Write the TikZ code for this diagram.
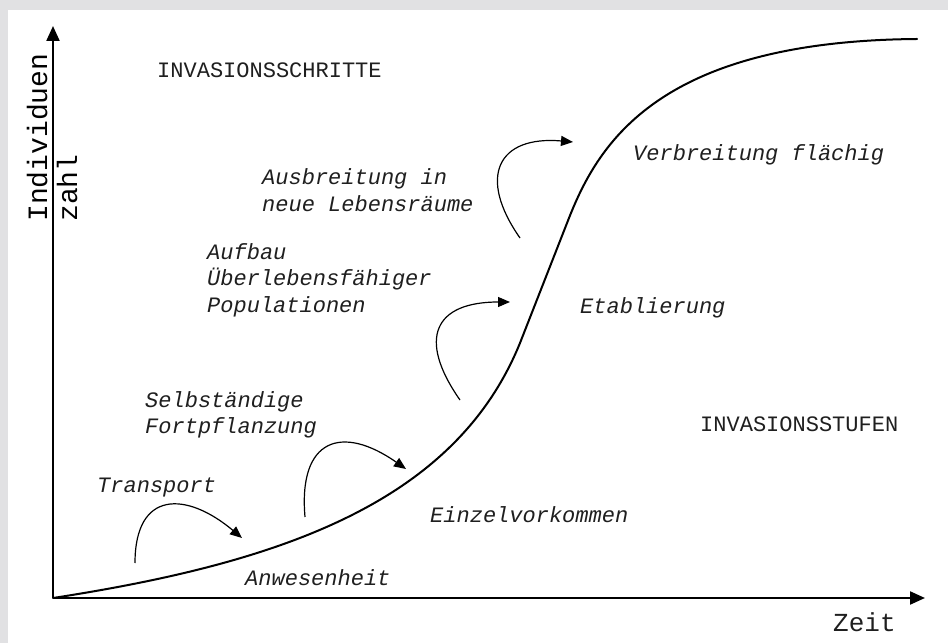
\documentclass[tikz,border=0pt]{standalone}
\usepackage{fontspec}
\setmainfont{Liberation Mono}
\usetikzlibrary{arrows.meta}

\begin{document}
\begin{tikzpicture}[x=1pt, y=1pt, >={Triangle[length=15pt, width=13pt]},
  lbl/.style={anchor=west, align=left, inner sep=0pt, text=black!88, font=\fontsize{22}{26.5}\selectfont\itshape},
  head/.style={anchor=west, inner sep=0pt, text=black!88, font=\fontsize{22}{26}\selectfont},
  axis/.style={->, line width=2.2pt},
  hop/.style={-{Triangle[length=12pt, width=10pt]}, line width=1.2pt, looseness=1.75},
  curve/.style={line width=2pt, line cap=round}]
\definecolor{frame}{RGB}{225,225,227}
% grey frame, white sheet
\fill[frame] (0,0) rectangle (948,643);
\fill[white] (8,0) rectangle (948,633);
% axes
\coordinate (O) at (53,45);
\coordinate (xtip) at (925,45);
\coordinate (ytip) at (53,617);
\draw[axis] (O) -- (xtip);
\draw[axis] (O) -- (ytip);
\node[anchor=west, inner sep=0pt, align=left, rotate=90, font=\fontsize{28}{30}\selectfont] (ylab) at (52,421) {Individuen\\zahl};
\node[head, font=\fontsize{26}{28}\selectfont] (xlab) at (833,21) {Zeit};
% growth curve: slow start, steep rise, plateau
\coordinate (turn) at (520,300);
\coordinate (steep) at (569,425);
\coordinate (cap) at (917,604);
\draw[curve] (O) .. controls (280,80) and (455,140) .. (turn) -- (steep)
  .. controls (599,501) and (660,602) .. (cap);
% headings
\node[head] (steps) at (157,573) {INVASIONSSCHRITTE};
\node[head] (stages) at (700,219) {INVASIONSSTUFEN};
% steps (left of the curve)
\node[lbl] (transport) at (97,156) {Transport};
\node[lbl] (repro) at (145,228) {Selbständige\\Fortpflanzung};
\node[lbl] (build) at (207,363) {Aufbau\\Überlebensfähiger\\Populationen};
\node[lbl] (spread) at (262,453) {Ausbreitung in\\neue Lebensräume};
% stages (right of / under the curve)
\node[lbl] (presence) at (245,65) {Anwesenheit};
\node[lbl] (single) at (430,128) {Einzelvorkommen};
\node[lbl] (establ) at (580,335) {Etablierung};
\node[lbl] (wide) at (633,488) {Verbreitung flächig};
% step arrows
\coordinate (a1) at (135,80);  \coordinate (b1) at (242,105);
\coordinate (a2) at (305,126); \coordinate (b2) at (406,174);
\coordinate (a3) at (460,243); \coordinate (b3) at (510,341);
\coordinate (a4) at (520,405); \coordinate (b4) at (573,501);
\draw[hop] (a1) to[out=90, in=140, looseness=1.7] (b1);
\draw[hop] (a2) to[out=95, in=145, looseness=1.8] (b2);
\draw[hop] (a3) to[out=125, in=180] (b3);
\draw[hop] (a4) to[out=125, in=175] (b4);
\end{tikzpicture}
\end{document}
